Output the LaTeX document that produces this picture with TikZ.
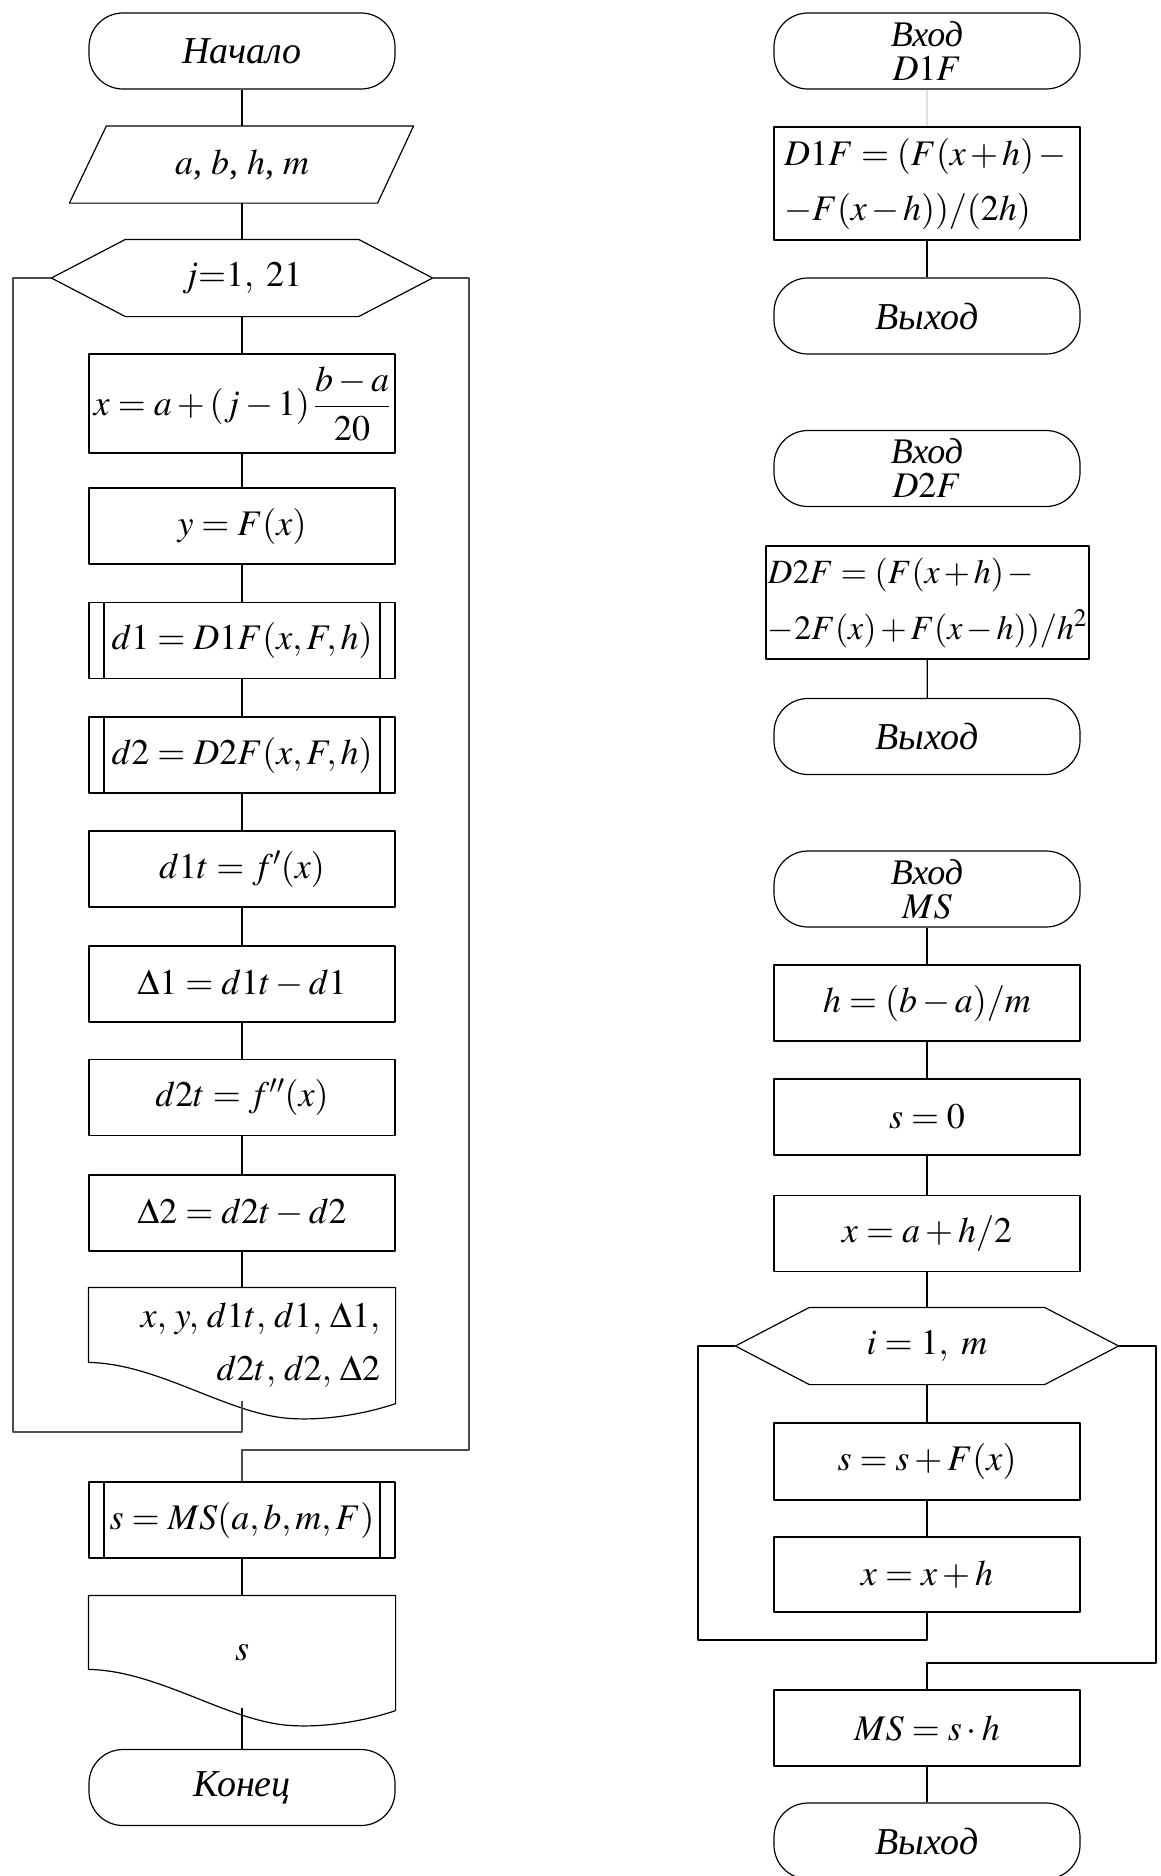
\documentclass[tikz,border=0pt]{standalone}
\usepackage{mathptmx}
\usepackage[no-math]{fontspec}
\setmainfont{Liberation Serif}
\usetikzlibrary{calc}
\newcommand\tightmu{\thickmuskip=4mu\relax\medmuskip=2mu\relax}
\tikzset{
  term/.style={draw,rounded corners=34pt,minimum width=306pt,minimum height=76pt,inner sep=0pt,align=center,font=\itshape\fontsize{38}{42}\selectfont},
  term2/.style={term,font=\itshape\fontsize{36}{34}\selectfont},
  proc/.style={draw,minimum width=306pt,minimum height=76pt,inner sep=0pt,align=center},
  subr/.style={proc,path picture={\draw ([xshift=15pt]path picture bounding box.north west) -- ([xshift=15pt]path picture bounding box.south west) ([xshift=-15pt]path picture bounding box.north east) -- ([xshift=-15pt]path picture bounding box.south east);}},
  blank/.style={minimum width=306pt,minimum height=76pt,inner sep=0pt,align=center},
  back/.style={gray!60!black,line width=1.8pt}
}
\begin{document}
\fontsize{36}{42}\selectfont
\begin{tikzpicture}[x=1pt,y=-1pt,line width=1.2pt,line join=round]
\useasboundingbox (0,0) rectangle (1160,1876);
% --- main program
\node[term] (beg) at (242,51) {Начало};
\node[blank] (inp) at (242,164.5) {$a$, $b$, $h$, $m$};
\draw ([xshift=-19pt]inp.south west) -- ([xshift=18pt]inp.north west) -- ([xshift=18pt]inp.north east) -- ([xshift=-18pt]inp.south east) -- cycle;
\node[blank,minimum width=380pt] (cyc1) at (242,278) {$j{=}1,\;21$};
\draw (cyc1.west) -- ([xshift=74pt]cyc1.north west) -- ([xshift=-74pt]cyc1.north east) -- (cyc1.east) -- ([xshift=-74pt]cyc1.south east) -- ([xshift=74pt]cyc1.south west) -- cycle;
\node[proc,minimum height=99pt] (xj) at (242,403.5) {$x = a + (j-1)\,{\displaystyle\frac{b-a}{20}}$};
\node[proc] (yf) at (242,526) {$y = F(x)$};
\node[subr] (d1) at (242,640.5) {$d1 = D1F(x, F, h)$};
\node[subr] (d2) at (242,755) {$d2 = D2F(x, F, h)$};
\node[proc] (d1t) at (242,869) {$d1t = f'(x)$};
\node[proc] (del1) at (242,984) {$\Delta1 = d1t - d1$};
\node[proc] (d2t) at (242,1097.5) {$d2t = f''(x)$};
\node[proc] (del2) at (242,1213) {$\Delta2 = d2t - d2$};
\node[blank,minimum height=115pt,text width=276pt,align=right,font=\fontsize{36}{53}\selectfont] (out1) at (242,1345.5) {$x,\mskip2mu y,\mskip2mu d1t,\mskip2mu d1,\mskip2mu \Delta1,$\\$d2t,\mskip2mu d2,\mskip2mu \Delta2$};
\draw (out1.north west) -- (out1.north east) -- (out1.south east) .. controls ($(out1.south west)+(281,9)$) and ($(out1.south west)+(241,17)$) .. ($(out1.south west)+(204,15)$) .. controls ($(out1.south west)+(141,12)$) and ($(out1.south west)+(71,-40)$) .. ($(out1.north west)+(0,75)$) -- cycle;
\coordinate (out1w) at ($(out1.south)+(0,-3)$);
\node[subr] (ms) at (242,1520) {$s = MS(a, b, m, F)$};
\node[blank,minimum height=114pt] (out2) at (242,1653) {$s$};
\draw (out2.north west) -- (out2.north east) -- (out2.south east) .. controls ($(out2.south west)+(281,9)$) and ($(out2.south west)+(241,17)$) .. ($(out2.south west)+(204,15)$) .. controls ($(out2.south west)+(141,12)$) and ($(out2.south west)+(71,-40)$) .. ($(out2.north west)+(0,74)$) -- cycle;
\coordinate (out2w) at ($(out2.south)+(0,-3)$);
\node[term] (fin) at (242,1787.5) {Конец};
\coordinate (retL1) at (13,1432);
\coordinate (retR1) at (469,1450);
\draw[back] (cyc1.west) -| (retL1) -| (out1w);
\draw[back] (cyc1.east) -| (retR1) -| (ms.north);
\foreach \a/\b in {beg/inp,inp/cyc1,cyc1/xj,xj/yf,yf/d1,d1/d2,d2/d1t,d1t/del1,del1/d2t,d2t/del2,del2/out1,ms/out2,out2w/fin}
  \draw (\a) -- (\b);
% --- subprograms
\node[term2] (in1) at (927,51) {Вход\\$D1F$};
\node[proc,minimum height=113pt,align=left,font=\fontsize{36}{55}\selectfont\tightmu] (p1) at (927,183.5) {$D1F = (F(x+h)-{}$\\$-F(x-h))/(2h)$};
\node[term] (ex1) at (927,316) {Выход};
\node[term2] (in2) at (927,468.5) {Вход\\$D2F$};
\node[proc,minimum width=323pt,minimum height=113pt,align=left,font=\fontsize{34}{56}\selectfont\tightmu] (p2) at (927.5,602.5) {$D2F = (F(x+h)-{}$\\$-2F(x)+F(x-h))/h^2$};
\node[term] (ex2) at (927,736.5) {Выход};
\node[term2] (in3) at (927,889) {Вход\\$MS$};
\node[proc] (hb) at (927,1003) {$h = (b-a)/m$};
\node[proc] (s0) at (927,1117) {$s = 0$};
\node[proc] (xa) at (927,1233.5) {$x = a + h/2$};
\node[blank,minimum width=382pt] (cyc2) at (927,1346) {$i = 1,\ m$};
\draw (cyc2.west) -- ([xshift=74pt]cyc2.north west) -- ([xshift=-74pt]cyc2.north east) -- (cyc2.east) -- ([xshift=-74pt]cyc2.south east) -- ([xshift=74pt]cyc2.south west) -- cycle;
\node[proc,minimum height=77pt] (sf) at (927,1461.5) {$s = s + F(x)$};
\node[proc,minimum height=75pt] (xh) at (927,1574.5) {$x = x + h$};
\node[proc] (msb) at (927,1728) {$MS = s\cdot h$};
\node[term] (ex3) at (927,1841) {Выход};
\coordinate (retL2) at (698,1640);
\coordinate (retR2) at (1156,1663);
\draw (cyc2.west) -| (retL2) -| (xh.south);
\draw (cyc2.east) -| (retR2) -| (msb.north);
\draw[gray!25] (in1) -- (p1);
\foreach \a/\b in {p1/ex1,p2/ex2,in3/hb,hb/s0,s0/xa,xa/cyc2,cyc2/sf,sf/xh,msb/ex3}
  \draw (\a) -- (\b);
\end{tikzpicture}
\end{document}
